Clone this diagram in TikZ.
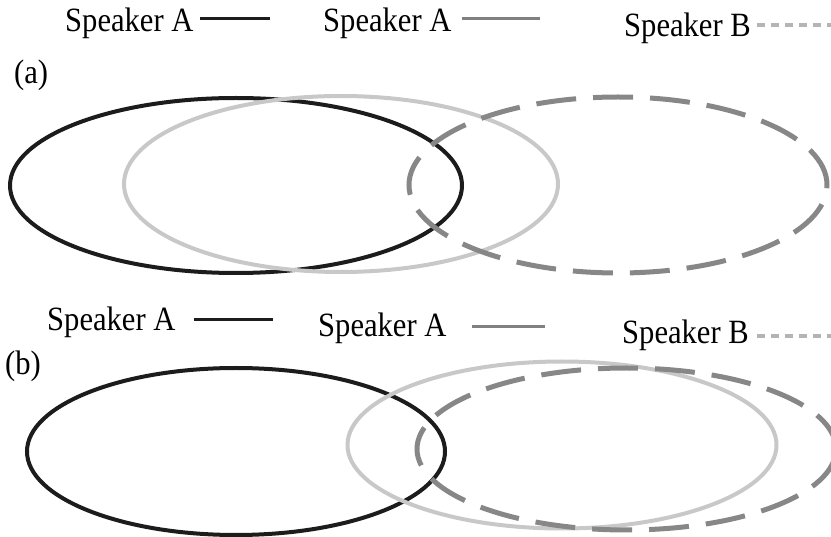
\documentclass[tikz,border=0pt]{standalone}
\usepackage{fontspec}
\setmainfont[FakeStretch=0.9]{Liberation Serif}
\definecolor{cBlack}{HTML}{1C1C1C}
\definecolor{cLight}{HTML}{C8C8C8}
\definecolor{cDash}{HTML}{878787}
\definecolor{cLegGray}{HTML}{808080}
\definecolor{cLegDash}{HTML}{B4B4B4}
\tikzset{
  lbl/.style={anchor=base west, inner sep=0pt, font=\fontsize{34}{40}\selectfont},
  ellA/.style={draw=cBlack, line width=4pt},
  ellL/.style={draw=cLight, line width=4pt},
  ellB/.style={draw=cDash, line width=5pt, dash pattern=on 40pt off 17pt},
  legA/.style={draw=cBlack, line width=3pt},
  legL/.style={draw=cLegGray, line width=3pt},
  legB/.style={draw=cLegDash, line width=3.5pt, dash pattern=on 8pt off 6pt},
}
\begin{document}
\begin{tikzpicture}[x=1pt,y=-1pt]
\useasboundingbox (0,0) rectangle (831,537);
% ---- legend (a)
\node[lbl] (ta1) at (65,32) {Speaker A};
\coordinate (la1s) at (200,19); \coordinate (la1e) at (270,19);
\draw[legA] (la1s) -- (la1e);
\node[lbl] (ta2) at (323,32) {Speaker A};
\coordinate (la2s) at (462,19); \coordinate (la2e) at (540,19);
\draw[legL] (la2s) -- (la2e);
\node[lbl] (ta3) at (624,37) {Speaker B};
\coordinate (la3s) at (757,25); \coordinate (la3e) at (831,25);
\draw[legB] (la3s) -- (la3e);
\node[lbl] (pa) at (14,84) {(a)};
% ---- ellipses (a)
\draw[ellA] (236,185.5) ellipse [x radius=226pt, y radius=87.5pt];
\draw[ellL] (341,184) ellipse [x radius=217pt, y radius=88pt];
\draw[ellB] (618,185) ellipse [x radius=209pt, y radius=88pt];
% ---- legend (b)
\node[lbl] (tb1) at (47,331) {Speaker A};
\coordinate (lb1s) at (194,320); \coordinate (lb1e) at (273,320);
\draw[legA] (lb1s) -- (lb1e);
\node[lbl] (tb2) at (318,337) {Speaker A};
\coordinate (lb2s) at (472,327); \coordinate (lb2e) at (545,327);
\draw[legL] (lb2s) -- (lb2e);
\node[lbl] (tb3) at (622,344) {Speaker B};
\coordinate (lb3s) at (757,336); \coordinate (lb3e) at (831,336);
\draw[legB] (lb3s) -- (lb3e);
\node[lbl] (pb) at (5,375) {(b)};
% ---- ellipses (b)
\draw[ellA] (236,451.5) ellipse [x radius=209pt, y radius=83.5pt];
\draw[ellL] (562,445) ellipse [x radius=214.5pt, y radius=83.5pt];
\draw[ellB] (626.5,449) ellipse [x radius=209.5pt, y radius=81pt];
\end{tikzpicture}
\end{document}
